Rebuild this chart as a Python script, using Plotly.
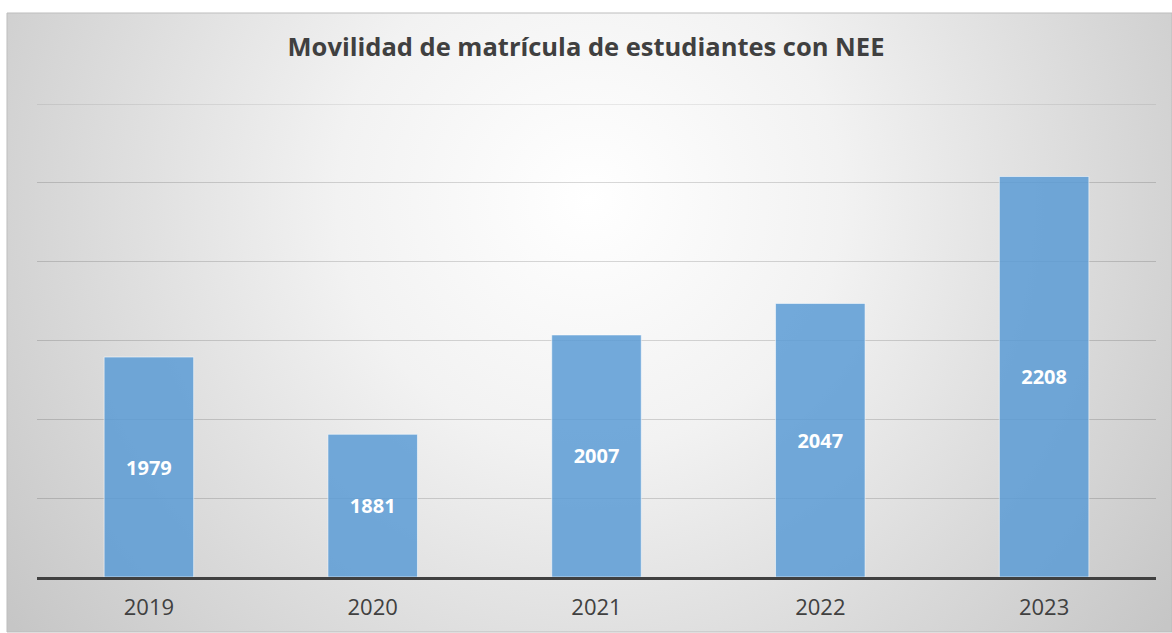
import base64
import plotly.graph_objects as go

years = ["2019", "2020", "2021", "2022", "2023"]
values = [1979, 1881, 2007, 2047, 2208]
axis_min, axis_max = 1700, 2300
title_text = "Movilidad de matrícula de estudiantes con NEE"

W, H = 1172, 633
ML, MR, MT, MB = 37, 16, 104, 56
pw = W - ML - MR
ph = H - MT - MB

# chart-area rectangle (pixels) -> paper coords
cx0, cy0, cx1, cy1 = 7, 13, 1172, 632
px0 = (cx0 - ML) / pw
px1 = (cx1 - ML) / pw
py1 = 1 - (cy0 - MT) / ph  # top
py0 = 1 - (cy1 - MT) / ph  # bottom

svg = f'''<svg xmlns="http://www.w3.org/2000/svg" width="{cx1-cx0}" height="{cy1-cy0}" viewBox="0 0 {cx1-cx0} {cy1-cy0}" preserveAspectRatio="none">
<defs><radialGradient id="g" cx="0.5" cy="0.3" r="0.62" gradientUnits="objectBoundingBox" gradientTransform="translate(0.5,0.3) scale(1,1.85) translate(-0.5,-0.3)">
<stop offset="0" stop-color="#ffffff"/><stop offset="0.35" stop-color="#f2f2f2"/><stop offset="1" stop-color="#c6c6c6"/></radialGradient></defs>
<rect width="100%" height="100%" fill="url(#g)"/></svg>'''
src = "data:image/svg+xml;base64," + base64.b64encode(svg.encode()).decode()

grid_color = "rgba(0,0,0,0.15)"

fig = go.Figure()
fig.add_trace(go.Bar(
    x=years, y=[v - axis_min for v in values], base=axis_min,
    marker=dict(color="rgba(91,155,213,0.85)", line=dict(color="rgba(255,255,255,0.55)", width=1)),
    text=[str(v) for v in values], textposition="inside", insidetextanchor="middle",
    textfont=dict(family="Open Sans", size=20, color="white", weight="bold"),
    textangle=0, hovertext=[str(v) for v in values], hoverinfo="x+text",
))

fig.update_layout(
    width=W, height=H,
    margin=dict(l=ML, r=MR, t=MT, b=MB),
    paper_bgcolor="white", plot_bgcolor="rgba(0,0,0,0)",
    bargap=0.6, showlegend=False,
    title=dict(text=f"<b>{title_text}</b>", x=0.5, xanchor="center", xref="container",
               y=1 - 47 / H, yanchor="middle", yref="container",
               font=dict(family="Open Sans", size=25.5, color="#404040")),
    images=[dict(source=src, xref="paper", yref="paper", x=px0, y=py1,
                 sizex=px1 - px0, sizey=py1 - py0, xanchor="left", yanchor="top",
                 sizing="stretch", layer="below")],
    shapes=[
        dict(type="rect", xref="paper", yref="paper", x0=px0, x1=px1, y0=py0, y1=py1,
             line=dict(color="#bdbdbd", width=1), fillcolor="rgba(0,0,0,0)", layer="below"),
        dict(type="line", xref="paper", yref="y", x0=0, x1=1, y0=axis_max, y1=axis_max,
             line=dict(color=grid_color, width=1), layer="below"),
    ],
    xaxis=dict(showline=True, linecolor="#404040", linewidth=3, ticks="", showgrid=False,
               ticklabelstandoff=9,
               tickfont=dict(family="Open Sans", size=22, color="#404040")),
    yaxis=dict(range=[axis_min, axis_max], dtick=100, showticklabels=False, showgrid=True,
               gridcolor=grid_color, gridwidth=1, zeroline=False, ticks=""),
)

fig.write_html("out.html", config={"displayModeBar": False},
               post_script="document.body.style.margin='0';document.body.style.overflow='hidden';")
